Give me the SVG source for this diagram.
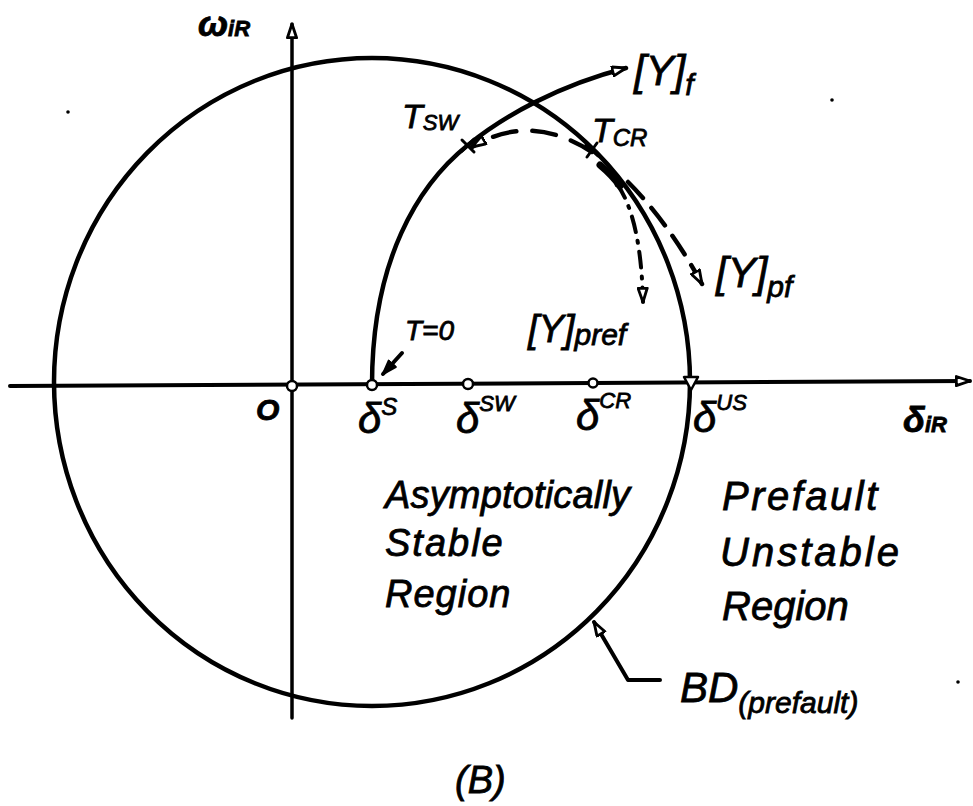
<svg xmlns="http://www.w3.org/2000/svg" width="973" height="806" viewBox="0 0 973 806">
<style>
.ln{fill:none;stroke:#000;stroke-linecap:round;stroke-linejoin:round}
.t{font-family:"Liberation Sans",Arial,sans-serif;font-style:italic;fill:#000;stroke:#000;stroke-width:0.8}
.pt{fill:#fff;stroke:#000;stroke-width:2.5}
</style>
<defs>
<marker id="oa" viewBox="0 0 14 10" refX="13" refY="5" markerWidth="16" markerHeight="12" markerUnits="userSpaceOnUse" orient="auto">
<path d="M1,1 L13,5 L1,9 Z" fill="#fff" stroke="#000" stroke-width="2.5" stroke-linejoin="round"/>
</marker>
<marker id="fa" viewBox="0 0 14 10" refX="13" refY="5" markerWidth="16" markerHeight="12" markerUnits="userSpaceOnUse" orient="auto">
<path d="M1,1 L13,5 L1,9 Z" fill="#000" stroke="#000" stroke-width="2" stroke-linejoin="round"/>
</marker>
</defs>
<rect width="973" height="806" fill="#fff"/>

<g id="axes">
<path class="ln" d="M292,718 L292,24" stroke-width="3.5" marker-end="url(#oa)"/>
<path class="ln" d="M10,386 L970,381" stroke-width="4" marker-end="url(#oa)"/>
<text class="t" x="198" y="36" font-size="36" font-weight="bold">ω<tspan font-size="22">iR</tspan></text>
<text class="t" x="903" y="432" font-size="36" font-weight="bold">δ<tspan font-size="22">iR</tspan></text>
</g>

<g id="boundary">
<ellipse class="ln" cx="372" cy="382" rx="318" ry="324" stroke-width="4.5"/>
</g>

<g id="connectors">
<path id="trajectory" class="ln" d="M372,385 C372,260 418,185 468,145 C505,115 560,85 626,68" stroke-width="4.5" marker-end="url(#oa)"/>
<path class="ln" d="M592,152 Q530,112 472,147" stroke-width="4.5" stroke-dasharray="24 16" marker-end="url(#oa)"/>
<path class="ln" d="M600,165 Q612,175 620,186" stroke-width="7"/>
<path class="ln" d="M628,182 Q668,222 702,284" stroke-width="4.5" stroke-dasharray="22 13" marker-end="url(#oa)"/>
<path class="ln" d="M617,184 Q641,218 643,302" stroke-width="4" stroke-dasharray="16 9 2 9" marker-end="url(#oa)"/>
<path class="ln" d="M402,353 L383,374" stroke-width="4" marker-end="url(#fa)"/>
<path class="ln" d="M660,680 L628,680 L594,622" stroke-width="4" marker-end="url(#oa)"/>
</g>

<g id="markers">
<circle class="pt" cx="292" cy="386" r="5"/>
<circle class="pt" cx="372" cy="385" r="5"/>
<circle class="pt" cx="468" cy="384" r="5"/>
<circle class="pt" cx="593" cy="383" r="4.5"/>
<path d="M684,377 L698,377 L691,390 Z" fill="#fff" stroke="#000" stroke-width="2.5" stroke-linejoin="round"/>
<path class="ln" d="M462,140 L474,152 M474,139 L462,151" stroke-width="3"/>
<path class="ln" d="M586,145 L598,156 M597,143 L587,157" stroke-width="3"/>
<circle cx="618" cy="184" r="3.5" fill="#000"/>
<circle cx="68" cy="112" r="1.8" fill="#000"/>
<circle cx="832" cy="100" r="1.8" fill="#000"/>
<circle cx="958" cy="682" r="1.8" fill="#000"/>
</g>

<g id="labels">
<text class="t" x="256" y="420" font-size="30" font-weight="bold">O</text>
<text class="t" x="358" y="433" font-size="42">δ<tspan font-size="24" dy="-18">S</tspan></text>
<text class="t" x="456" y="433" font-size="42">δ<tspan font-size="22" dy="-22">SW</tspan></text>
<text class="t" x="576" y="430" font-size="42">δ<tspan font-size="22" dy="-22">CR</tspan></text>
<text class="t" x="693" y="432" font-size="42">δ<tspan font-size="22" dy="-22">US</tspan></text>
<text class="t" x="405" y="340" font-size="28">T=0</text>
<text class="t" x="402" y="128" font-size="34">T<tspan font-size="22" dy="2">SW</tspan></text>
<text class="t" x="592" y="142" font-size="34">T<tspan font-size="24" dy="4">CR</tspan></text>
<text class="t" x="634" y="85" font-size="42">[Y]<tspan font-size="30" dy="10">f</tspan></text>
<text class="t" x="716" y="287" font-size="42">[Y]<tspan font-size="30" dy="10">pf</tspan></text>
<text class="t" x="528" y="342" font-size="38">[Y]<tspan font-size="30" dy="3">pref</tspan></text>
<text class="t" x="385" y="508" font-size="38" textLength="245">Asymptotically</text>
<text class="t" x="385" y="556" font-size="38" letter-spacing="2">Stable</text>
<text class="t" x="385" y="607" font-size="38" letter-spacing="1">Region</text>
<text class="t" x="722" y="510" font-size="40" letter-spacing="2.5">Prefault</text>
<text class="t" x="720" y="566" font-size="40" letter-spacing="3">Unstable</text>
<text class="t" x="722" y="620" font-size="40">Region</text>
<text class="t" x="680" y="702" font-size="42">BD<tspan font-size="30" dy="11">(prefault)</tspan></text>
<text class="t" x="455" y="793" font-size="38">(B)</text>
</g>
</svg>
